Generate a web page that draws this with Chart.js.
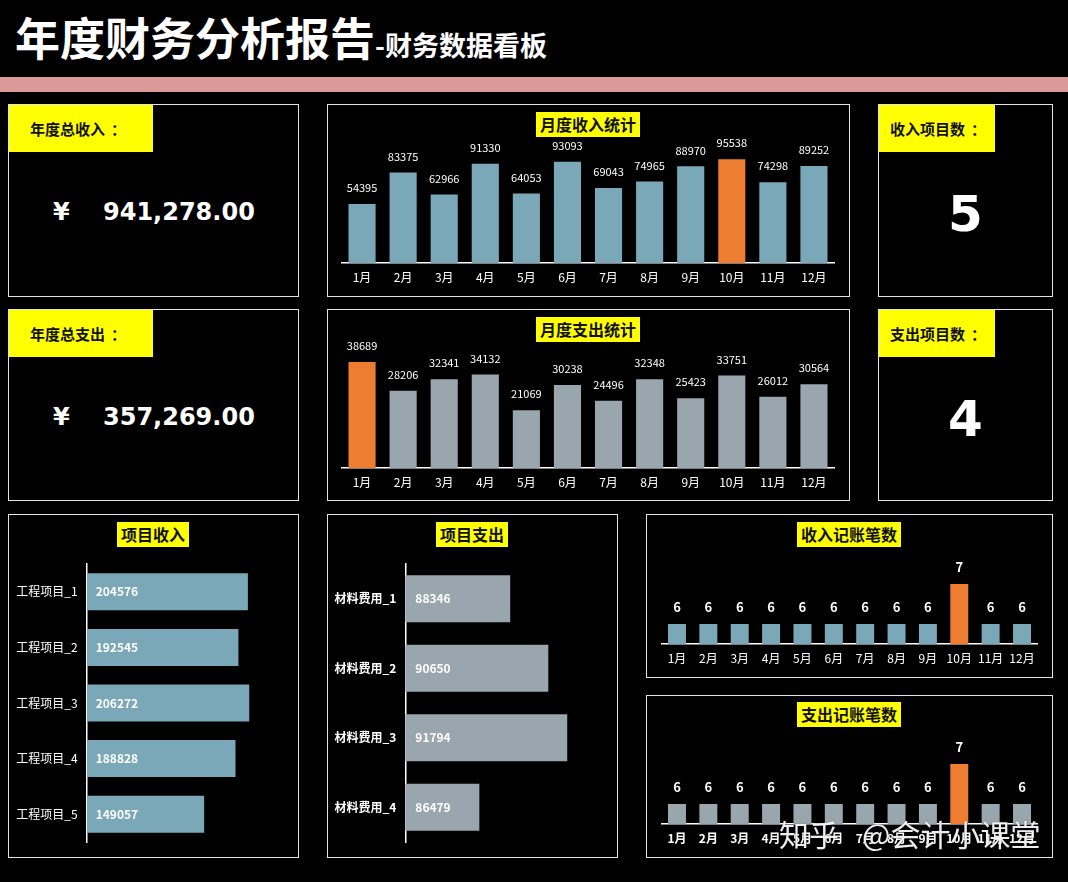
<!DOCTYPE html>
<html lang="zh-CN">
<head>
<meta charset="UTF-8" />
<title>年度财务分析报告-财务数据看板</title>
<script src="https://cdn.jsdelivr.net/npm/chart.js"></script>
<style>
  body { margin: 0; background: #000; font-family: "Noto Sans CJK SC", sans-serif; }
  #page { position: relative; width: 1068px; height: 882px; overflow: hidden; background: #000; }
  .abs { position: absolute; white-space: nowrap; }
  .panel { position: absolute; box-sizing: border-box; border: 1px solid #e3e3e3; }
  .tag { position: absolute; box-sizing: border-box; background: #ffff00; color: #111; font-weight: bold;
         font-size: 15px; height: 47px; line-height: 47px; }
  .tag .colon { margin-left: 6px; }
  .ctitle { position: absolute; background: #ffff00; color: #111; font-weight: bold; font-size: 16px;
            height: 25px; line-height: 25px; padding: 0 4px; transform: translateX(-50%); white-space: nowrap; }
  .money { position: absolute; color: #fff; font-family: "DejaVu Sans", sans-serif; font-weight: bold;
           font-size: 24px; line-height: 30px; }
  .count { position: absolute; color: #fff; font-family: "DejaVu Sans", sans-serif; font-weight: bold;
           font-size: 50px; line-height: 60px; text-align: center; width: 175px; }
  .mark { position: absolute; white-space: nowrap; color: rgba(255,255,255,0.93); font-size: 30px; line-height: 30px;
          text-shadow: 0 0 1px rgba(0,0,0,0.7); }
  canvas { position: absolute; }
</style>
</head>
<body>
<div id="page">
  <div class="abs" style="left:15px; top:14px; color:#fff; font-weight:bold; font-size:45px; line-height:45px;">年度财务分析报告<span style="font-size:27px;">-财务数据看板</span></div>
  <div class="abs" style="left:0; top:77px; width:1068px; height:15px; background:#da9a98;"></div>

  <!-- 第一行 -->
  <div class="panel" style="left:8px; top:104px; width:291px; height:193px;"></div>
  <div class="panel" style="left:327px; top:104px; width:523px; height:193px;"></div>
  <div class="panel" style="left:878px; top:104px; width:175px; height:193px;"></div>
  <!-- 第二行 -->
  <div class="panel" style="left:8px; top:309px; width:291px; height:192px;"></div>
  <div class="panel" style="left:327px; top:309px; width:523px; height:192px;"></div>
  <div class="panel" style="left:878px; top:309px; width:175px; height:192px;"></div>
  <!-- 第三行 -->
  <div class="panel" style="left:8px; top:514px; width:291px; height:344px;"></div>
  <div class="panel" style="left:327px; top:514px; width:291px; height:344px;"></div>
  <div class="panel" style="left:646px; top:514px; width:407px; height:164px;"></div>
  <div class="panel" style="left:646px; top:695px; width:407px; height:163px;"></div>

  <div class="tag" style="left:9px; top:105px; width:144px; padding-left:21px;">年度总收入<span class="colon">：</span></div>
  <div class="money" style="left:53px; top:197px;">¥</div>
  <div class="money" id="incomeTotal" style="left:103px; top:197px;"></div>

  <div class="tag" style="left:879px; top:105px; width:116px; padding-left:11px;">收入项目数<span class="colon">：</span></div>
  <div class="count" id="incomeCount" style="left:878px; top:184px;"></div>

  <div class="tag" style="left:9px; top:310px; width:144px; padding-left:21px;">年度总支出<span class="colon">：</span></div>
  <div class="money" style="left:53px; top:402px;">¥</div>
  <div class="money" id="expenseTotal" style="left:103px; top:402px;"></div>

  <div class="tag" style="left:879px; top:310px; width:116px; padding-left:11px;">支出项目数<span class="colon">：</span></div>
  <div class="count" id="expenseCount" style="left:878px; top:389px;"></div>

  <canvas id="chartIncome" width="521" height="170" style="left:328px; top:125px;"></canvas>
  <canvas id="chartExpense" width="521" height="170" style="left:328px; top:330px;"></canvas>
  <canvas id="chartProjIncome" width="289" height="300" style="left:9px; top:555px;"></canvas>
  <canvas id="chartProjExpense" width="289" height="300" style="left:328px; top:555px;"></canvas>
  <canvas id="chartIncomeCnt" width="405" height="116" style="left:647px; top:560px;"></canvas>
  <canvas id="chartExpenseCnt" width="405" height="116" style="left:647px; top:740px;"></canvas>

  <div class="ctitle" style="left:588px; top:112px;">月度收入统计</div>
  <div class="ctitle" style="left:588px; top:317px;">月度支出统计</div>
  <div class="ctitle" style="left:153px; top:522px;">项目收入</div>
  <div class="ctitle" style="left:472px; top:522px;">项目支出</div>
  <div class="ctitle" style="left:849px; top:522px;">收入记账笔数</div>
  <div class="ctitle" style="left:849px; top:702px;">支出记账笔数</div>

  <div class="mark" style="left:779px; top:818px;">知乎</div>
  <div class="mark" style="left:862px; top:818px;">@会计小课堂</div>
</div>

<script>
// 数据
const months = ['1月', '2月', '3月', '4月', '5月', '6月', '7月', '8月', '9月', '10月', '11月', '12月'];
const incomeMonthly = [54395, 83375, 62966, 91330, 64053, 93093, 69043, 74965, 88970, 95538, 74298, 89252];
const expenseMonthly = [38689, 28206, 32341, 34132, 21069, 30238, 24496, 32348, 25423, 33751, 26012, 30564];
const incomeProjects = ['工程项目_1', '工程项目_2', '工程项目_3', '工程项目_4', '工程项目_5'];
const incomeProjectValues = [204576, 192545, 206272, 188828, 149057];
const expenseProjects = ['材料费用_1', '材料费用_2', '材料费用_3', '材料费用_4'];
const expenseProjectValues = [88346, 90650, 91794, 86479];
const incomeCounts = [6, 6, 6, 6, 6, 6, 6, 6, 6, 7, 6, 6];
const expenseCounts = [6, 6, 6, 6, 6, 6, 6, 6, 6, 7, 6, 6];

const BLUE = '#7aa8b8';
const GREY = '#9aa6ae';
const ORANGE = '#ed7d31';

Chart.defaults.font.family = '"Noto Sans CJK SC", sans-serif';
Chart.defaults.color = '#fff';

const sum = arr => arr.reduce((a, b) => a + b, 0);
const fmt = v => v.toLocaleString('en-US', { minimumFractionDigits: 2, maximumFractionDigits: 2 });
document.getElementById('incomeTotal').textContent = fmt(sum(incomeMonthly));
document.getElementById('expenseTotal').textContent = fmt(sum(expenseMonthly));
document.getElementById('incomeCount').textContent = incomeProjects.length;
document.getElementById('expenseCount').textContent = expenseProjects.length;

// 最大值标橙色
function colorsFor(values, base) {
  const max = Math.max(...values);
  return values.map(v => v === max ? ORANGE : base);
}

// 轴的大小固定，不让标签撑开图表区
function fixAxis(size) {
  return s => {
    if (s.isHorizontal()) s.height = size; else s.width = size;
    s.paddingTop = 0; s.paddingBottom = 0; s.paddingLeft = 0; s.paddingRight = 0;
  };
}

// 数据标签
const valueLabels = {
  id: 'valueLabels',
  afterDatasetsDraw(chart, args, opts) {
    const ctx = chart.ctx;
    const data = chart.data.datasets[0].data;
    ctx.save();
    ctx.font = opts.font;
    ctx.fillStyle = '#fff';
    ctx.textBaseline = 'middle';
    chart.getDatasetMeta(0).data.forEach((bar, i) => {
      if (opts.inside) {
        ctx.textAlign = 'left';
        ctx.fillText(data[i], Math.max(bar.base, chart.chartArea.left) + opts.offset, bar.y);
      } else {
        ctx.textAlign = 'center';
        ctx.fillText(data[i], bar.x, bar.y - opts.offset);
      }
    });
    ctx.restore();
  }
};

function columnChart(id, values, base, yMin, yMax, pad, axisH, barPct, tickFont, labelFont, labelOffset) {
  new Chart(document.getElementById(id), {
    type: 'bar',
    data: {
      labels: months,
      datasets: [{ data: values, backgroundColor: colorsFor(values, base), barPercentage: barPct, categoryPercentage: 1 }]
    },
    options: {
      responsive: false,
      animation: false,
      layout: { padding: pad },
      plugins: {
        legend: { display: false },
        tooltip: { enabled: false },
        valueLabels: { font: labelFont, offset: labelOffset }
      },
      scales: {
        x: {
          grid: { display: false, drawTicks: false },
          border: { display: true, color: '#fff', width: 1.5 },
          ticks: { color: '#fff', font: tickFont, padding: 7, maxRotation: 0, autoSkip: false },
          afterFit: fixAxis(axisH)
        },
        y: { display: false, min: yMin, max: yMax }
      }
    },
    plugins: [valueLabels]
  });
}

function barChart(id, labels, values, base, xMin, xMax, pad, axisW, barPct, tickFont, labelOffset) {
  new Chart(document.getElementById(id), {
    type: 'bar',
    data: {
      labels: labels,
      datasets: [{ data: values, backgroundColor: base, barPercentage: barPct, categoryPercentage: 1 }]
    },
    options: {
      indexAxis: 'y',
      responsive: false,
      animation: false,
      layout: { padding: pad },
      plugins: {
        legend: { display: false },
        tooltip: { enabled: false },
        valueLabels: { font: 'bold 12px "Noto Sans CJK SC", sans-serif', offset: labelOffset, inside: true }
      },
      scales: {
        y: {
          grid: { display: false, drawTicks: false },
          border: { display: true, color: '#fff', width: 1.5 },
          ticks: { color: '#fff', font: tickFont, padding: 9 },
          afterFit: fixAxis(axisW)
        },
        x: { display: false, min: xMin, max: xMax }
      }
    },
    plugins: [valueLabels]
  });
}

columnChart('chartIncome', incomeMonthly, BLUE, 0, 104000,
  { left: 13.5, right: 14.5, top: 25, bottom: 8 }, 24, 0.66,
  { size: 12 }, '11px "Noto Sans CJK SC", sans-serif', 16);
columnChart('chartExpense', expenseMonthly, GREY, 0, 41200,
  { left: 13.5, right: 14.5, top: 25, bottom: 8 }, 24, 0.66,
  { size: 12 }, '11px "Noto Sans CJK SC", sans-serif', 16);

barChart('chartProjIncome', incomeProjects, incomeProjectValues, BLUE, 0, 258000,
  { left: 0, right: 8, top: 9, bottom: 13 }, 77.7, 0.665, { size: 12 }, 9);
barChart('chartProjExpense', expenseProjects, expenseProjectValues, GREY, 82000, 94000,
  { left: 0, right: 13.3, top: 9, bottom: 13 }, 77.3, 0.676, { size: 12, weight: 'bold' }, 10);

columnChart('chartIncomeCnt', incomeCounts, BLUE, 5.5, 7.5,
  { left: 14.3, right: 14.3, top: 4, bottom: 4 }, 28, 0.573,
  { size: 12 }, 'bold 13px "Noto Sans CJK SC", sans-serif', 17);
columnChart('chartExpenseCnt', expenseCounts, GREY, 5.5, 7.5,
  { left: 14.3, right: 14.3, top: 4, bottom: 4 }, 28, 0.573,
  { size: 12, weight: 'bold' }, 'bold 13px "Noto Sans CJK SC", sans-serif', 17);
</script>
</body>
</html>
